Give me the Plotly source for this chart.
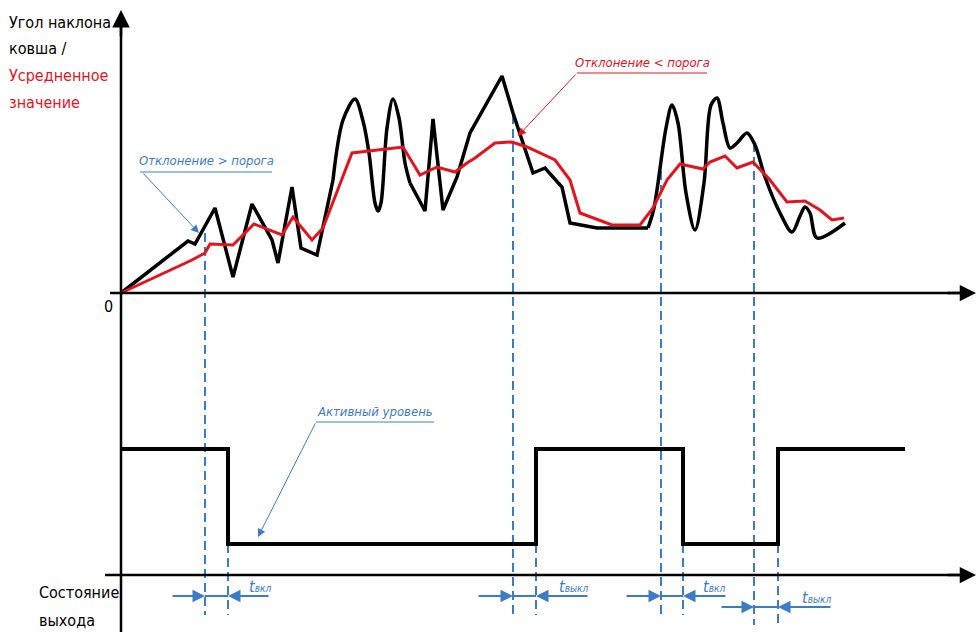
import plotly.graph_objects as go

# ---------------- data (time units, angle units; origin at axes crossing) ----------------
# raw bucket angle, split into pieces that are drawn straight (zigzag) or smooth (oscillation)
raw1_t = [0, 67, 74, 94, 112, 131, 151, 157, 171, 180, 196, 212]
raw1_a = [0, 52, 49, 85, 16, 89, 53, 30, 106, 45, 38, 113]
raw2_t = [212, 222, 234, 242, 248, 254, 257, 260, 266, 272, 278, 284, 289]
raw2_a = [113, 173, 194, 172, 140, 90, 82, 90, 165, 194, 175, 130, 110]
raw3_t = [289, 304, 312, 322, 336, 349, 381, 392, 412, 424, 441, 449, 476, 527]
raw3_a = [110, 82, 174, 83, 116, 160, 217, 180, 120, 125, 106, 70, 65, 65]
raw4_t = [527, 533, 545, 551, 557, 565, 574, 583, 590, 596, 602, 609, 616, 626, 634, 644, 659,
          671, 679, 684, 689, 696, 724]
raw4_a = [65, 85, 165, 188, 170, 100, 63, 110, 188, 195, 170, 145, 150, 160, 148, 116, 80,
          61, 77, 86, 80, 55, 70]

avg_t = [0, 71, 84, 89, 112, 133, 161, 172, 191, 202, 231, 282, 299, 316, 334, 346, 354, 374, 391,
         406, 434, 449, 459, 491, 519, 532, 546, 559, 582, 589, 604, 616, 632, 649, 666, 684, 699,
         711, 723]
avg_a = [0, 33, 40, 49, 48, 69, 58, 76, 53, 65, 140, 146, 118, 126, 121, 130, 135, 150, 151,
         146, 133, 113, 80, 68, 68, 85, 113, 129, 124, 131, 137, 125, 131, 113, 91, 92, 83,
         73, 75]

out_t = [0, 107, 415, 562, 657, 784]
out_level_high = -156
out_level_low = -251
out_v = [out_level_high, out_level_low, out_level_high, out_level_low, out_level_high, out_level_high]

detect_t = [84, 392, 540, 633]
detect_top = [60, 178, 136, 150]
switch_t = [107, 415, 562, 657]
guide_bottom = [-322, -322, -322, -332]
delay_y = [-303, -303, -303, -314]
tail_left = [50, 356, 504, 599]
tail_right = [149, 468, 606, 711]
delay_labels = ["вкл", "выкл", "вкл", "выкл"]
label_left = [126, 436, 580, 679]

BLUE = "#3d7cc4"
RED = "#e3141e"
FONT = "DejaVu Sans Condensed, Liberation Sans Narrow, sans-serif"

fig = go.Figure()

# guide dashed lines
for i in range(4):
    fig.add_trace(go.Scatter(x=[detect_t[i], detect_t[i]], y=[detect_top[i], guide_bottom[i]],
                             mode="lines", line=dict(color=BLUE, width=2, dash="9px,5px"),
                             hoverinfo="skip"))
    fig.add_trace(go.Scatter(x=[switch_t[i], switch_t[i]], y=[out_level_low, guide_bottom[i]],
                             mode="lines", line=dict(color=BLUE, width=2, dash="9px,5px"),
                             hoverinfo="skip"))

# raw signal
for tt, aa, shp in [(raw1_t, raw1_a, "linear"), (raw2_t, raw2_a, "spline"),
                    (raw3_t, raw3_a, "linear"), (raw4_t, raw4_a, "spline")]:
    line = dict(color="black", width=3.5, shape=shp)
    if shp == "spline":
        line["smoothing"] = 0.9
    fig.add_trace(go.Scatter(x=tt, y=aa, mode="lines", line=line))
# averaged value
fig.add_trace(go.Scatter(x=avg_t, y=avg_a, mode="lines", line=dict(color=RED, width=3)))
# output state
fig.add_trace(go.Scatter(x=out_t, y=out_v, mode="lines", line=dict(color="black", width=4, shape="hv")))

shapes = []
# axes
shapes.append(dict(type="line", x0=0, x1=0, y0=-339, y1=270, line=dict(color="black", width=2.5)))
shapes.append(dict(type="line", x0=-11, x1=840, y0=0, y1=0, line=dict(color="black", width=2.5)))
shapes.append(dict(type="line", x0=-16, x1=840, y0=-282, y1=-282, line=dict(color="black", width=2.5)))
# delay segments
for i in range(4):
    shapes.append(dict(type="line", x0=detect_t[i], x1=switch_t[i], y0=delay_y[i], y1=delay_y[i],
                       line=dict(color=BLUE, width=2)))
# underlines for callouts
shapes.append(dict(type="line", x0=19, x1=151, y0=121, y1=121, line=dict(color=BLUE, width=1)))
shapes.append(dict(type="line", x0=456, x1=586, y0=220, y1=220, line=dict(color=RED, width=1)))
shapes.append(dict(type="line", x0=195, x1=313, y0=-129, y1=-129, line=dict(color=BLUE, width=1)))

ann = []
def arrow(x, y, ax, ay, color, width, size):
    ann.append(dict(x=x, y=y, ax=ax, ay=ay, xref="x", yref="y", axref="x", ayref="y",
                    text="", showarrow=True, arrowhead=2, arrowsize=size, arrowwidth=width,
                    arrowcolor=color, standoff=0, startstandoff=0))

# axis arrowheads
arrow(0, 283, 0, 255, "black", 2.5, 1.4)
arrow(855, 0, 825, 0, "black", 2.5, 1.3)
arrow(855, -282, 825, -282, "black", 2.5, 1.3)

# delay arrows and labels
for i in range(4):
    arrow(detect_t[i], delay_y[i], tail_left[i], delay_y[i], BLUE, 2, 1.25)
    arrow(switch_t[i], delay_y[i], tail_right[i], delay_y[i], BLUE, 2, 1.25)
    ann.append(dict(x=label_left[i], y=delay_y[i] + 10, xref="x", yref="y", xanchor="left",
                    yanchor="middle", showarrow=False,
                    text="<i>t<span style='font-size:10px'>" + delay_labels[i] + "</span></i>",
                    font=dict(family=FONT, size=16, color=BLUE)))

# callout leaders
arrow(78, 60, 21, 121, BLUE, 1, 1.6)
arrow(397, 157, 456, 220, RED, 1, 1.6)
arrow(137, -244, 195, -129, BLUE, 1, 1.6)

def text(x, y, s, color, size=16, italic=False, anchor="left"):
    ann.append(dict(x=x, y=y, xref="x", yref="y", xanchor=anchor, yanchor="middle", showarrow=False,
                    text=("<i>" + s + "</i>") if italic else s,
                    font=dict(family=FONT, size=size, color=color)))

text(85, 133, "Отклонение > порога", BLUE, 13, True, "center")
text(521, 231, "Отклонение < порога", RED, 13, True, "center")
text(254, -118, "Активный уровень", BLUE, 13, True, "center")

text(-114, 271, "Угол наклона", "black")
text(-114, 245, "ковша /", "black")
text(-114, 218, "Усредненное", RED)
text(-114, 191, "значение", RED)
text(-13, -13, "0", "black", 16, False, "center")
text(-84, -299, "Состояние", "black")
text(-84, -327, "выхода", "black")

fig.update_layout(width=976, height=632, margin=dict(l=0, r=0, t=0, b=0),
                  paper_bgcolor="white", plot_bgcolor="white", showlegend=False,
                  xaxis=dict(range=[-121, 855], visible=False, fixedrange=True),
                  yaxis=dict(range=[-339, 293], visible=False, fixedrange=True),
                  shapes=shapes, annotations=ann)

fig.write_html("out.html", config={"displayModeBar": False},
               post_script="document.body.style.margin='0';document.body.style.overflow='hidden';")
